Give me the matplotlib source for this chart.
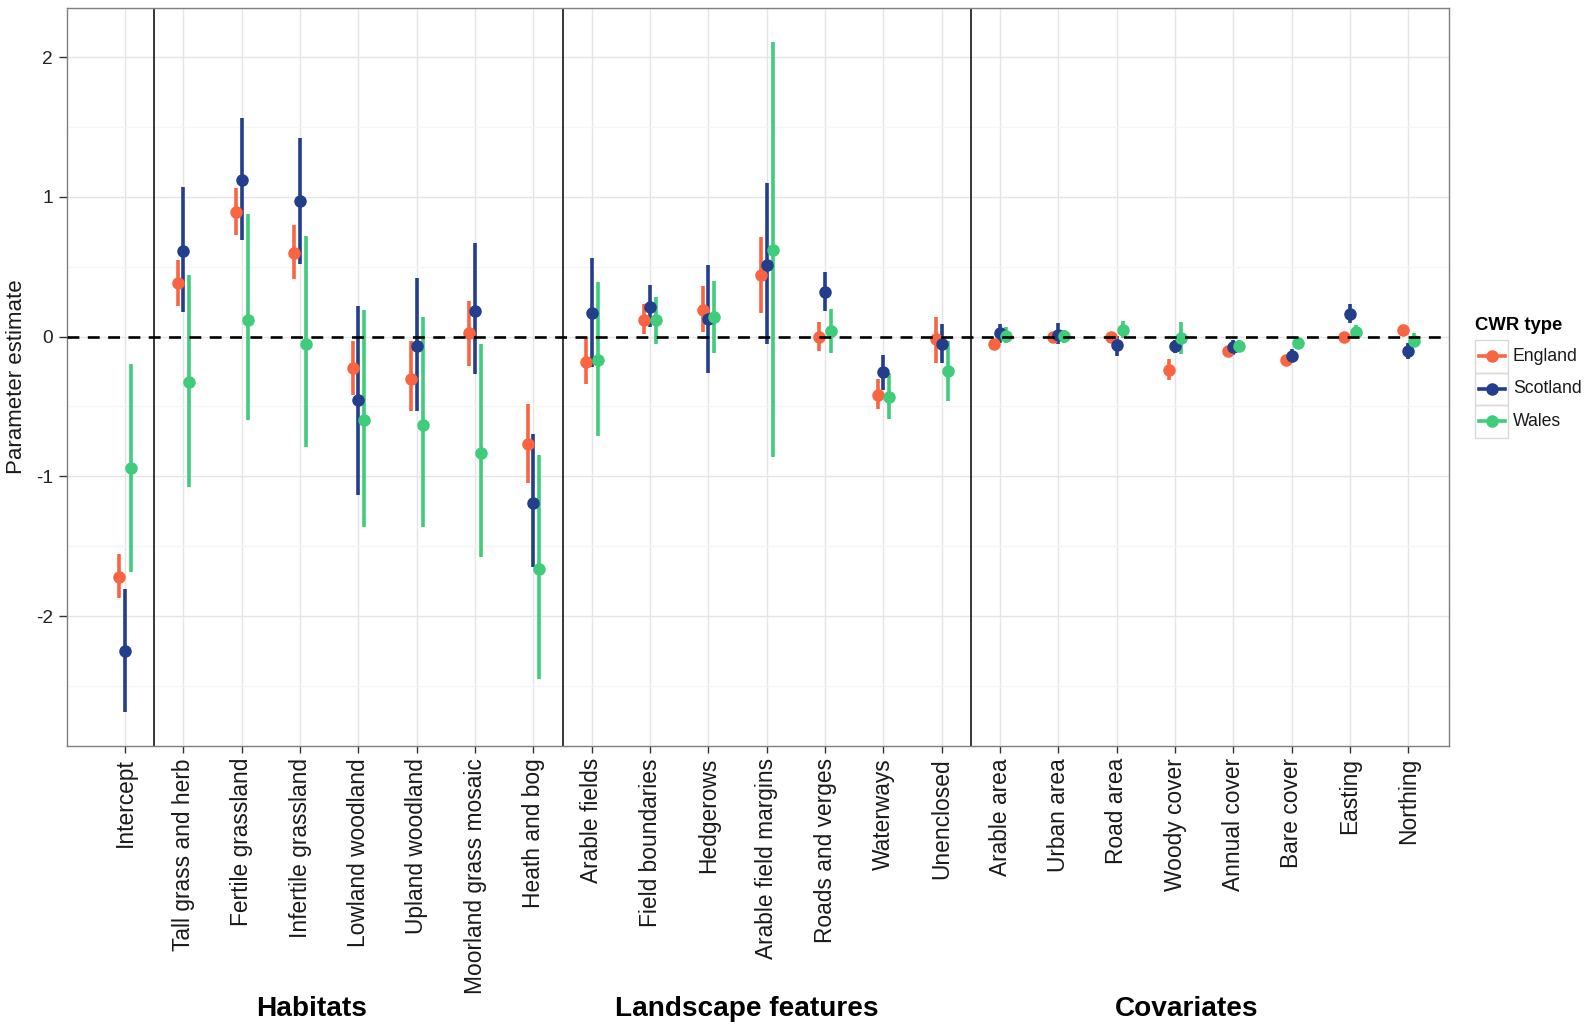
import numpy as np
import matplotlib
matplotlib.use("Agg")
import matplotlib.pyplot as plt
import matplotlib.transforms as mtransforms
from matplotlib.lines import Line2D
from matplotlib.patches import Rectangle

plt.rcParams['font.family'] = ['Liberation Sans', 'DejaVu Sans']

# ----------------------------- data -----------------------------
categories = ["Intercept",
              "Tall grass and herb", "Fertile grassland", "Infertile grassland",
              "Lowland woodland", "Upland woodland", "Moorland grass mosaic",
              "Heath and bog",
              "Arable fields", "Field boundaries", "Hedgerows",
              "Arable field margins", "Roads and verges", "Waterways", "Unenclosed",
              "Arable area", "Urban area", "Road area", "Woody cover",
              "Annual cover", "Bare cover", "Easting", "Northing"]

group_names = ["Habitats", "Landscape features", "Covariates"]
group_label_x = [3.2, 10.65, 18.2]     # where the bold labels sit (category units)
separators = [0.5, 7.5, 14.5]

england_est = [-1.72, 0.38, 0.89, 0.60, -0.225, -0.30, 0.025, -0.77,
               -0.18, 0.117, 0.19, 0.44, 0.0, -0.42, -0.017,
               -0.054, -0.005, -0.005, -0.236, -0.10, -0.165, -0.005, 0.047]
england_lo = [-1.87, 0.22, 0.725, 0.41, -0.42, -0.53, -0.21, -1.05,
              -0.34, 0.015, 0.03, 0.17, -0.10, -0.52, -0.19,
              -0.075, -0.03, -0.03, -0.31, -0.12, -0.185, -0.03, 0.025]
england_hi = [-1.556, 0.547, 1.06, 0.80, -0.035, -0.035, 0.255, -0.48,
              0.0, 0.23, 0.36, 0.715, 0.105, -0.30, 0.14,
              -0.035, 0.02, 0.02, -0.16, -0.08, -0.145, 0.02, 0.07]

scotland_est = [-2.25, 0.615, 1.118, 0.967, -0.456, -0.066, 0.18, -1.19,
                0.17, 0.21, 0.126, 0.51, 0.32, -0.25, -0.05,
                0.024, 0.012, -0.06, -0.07, -0.078, -0.137, 0.165, -0.106]
scotland_lo = [-2.687, 0.178, 0.69, 0.52, -1.13, -0.53, -0.27, -1.65,
               -0.22, 0.067, -0.26, -0.05, 0.18, -0.38, -0.19,
               -0.047, -0.054, -0.137, -0.12, -0.13, -0.185, 0.095, -0.158]
scotland_hi = [-1.805, 1.07, 1.566, 1.42, 0.22, 0.42, 0.67, -0.70,
               0.56, 0.37, 0.515, 1.10, 0.46, -0.13, 0.09,
               0.087, 0.095, 0.007, -0.024, -0.024, -0.09, 0.236, -0.047]

wales_est = [-0.94, -0.325, 0.12, -0.05, -0.596, -0.63, -0.83, -1.66,
             -0.165, 0.117, 0.14, 0.62, 0.04, -0.43, -0.245,
             0.007, 0.005, 0.047, -0.012, -0.064, -0.043, 0.035, -0.03]
wales_lo = [-1.685, -1.073, -0.60, -0.79, -1.36, -1.36, -1.58, -2.45,
            -0.71, -0.05, -0.12, -0.86, -0.12, -0.59, -0.46,
            -0.047, -0.043, -0.007, -0.125, -0.106, -0.087, -0.012, -0.078]
wales_hi = [-0.198, 0.444, 0.88, 0.72, 0.19, 0.14, -0.05, -0.85,
            0.39, 0.28, 0.40, 2.11, 0.20, -0.26, -0.03,
            0.066, 0.047, 0.11, 0.106, -0.024, 0.0, 0.083, 0.024]

series = [
    ("England",  england_est,  england_lo,  england_hi,  "#FA6440", -0.1),
    ("Scotland", scotland_est, scotland_lo, scotland_hi, "#233E8B",  0.0),
    ("Wales",    wales_est,    wales_lo,    wales_hi,    "#3FCC7B",  0.1),
]

# ----------------------------- figure -----------------------------
fig = plt.figure(figsize=(15.89, 10.27), dpi=100)
ax = fig.add_axes([0.042, 0.274, 0.870, 0.718])

x = np.arange(len(categories))

for name, est, lo, hi, col, off in series:
    est, lo, hi = map(np.asarray, (est, lo, hi))
    ax.vlines(x + off, lo, hi, color=col, lw=2.6, zorder=3)
    ax.plot(x + off, est, 'o', color=col, ms=8, mec=col, zorder=4)

ax.axhline(0, color='black', lw=1.9, ls=(0, (4.5, 3.2)), zorder=5)
for s in separators:
    ax.axvline(s, color='black', lw=1.1, zorder=2)

ax.set_yticks([-2, -1, 0, 1, 2])
ax.set_yticklabels(["-2", "-1", "0", "1", "2"])
ax.set_yticks(np.arange(-2.5, 2.6, 1.0), minor=True)
ax.set_xticks(x)
ax.set_xticklabels(categories, rotation=90, fontsize=16.4, color='#1a1a1a')

# ggplot-style limits: data range plus 5 % (set after the ticks so they
# don't widen the view)
all_lo = min(min(v) for v in (england_lo, scotland_lo, wales_lo))
all_hi = max(max(v) for v in (england_hi, scotland_hi, wales_hi))
pad = 0.05 * (all_hi - all_lo)
ax.set_ylim(all_lo - pad, all_hi + pad)
ax.set_xlim(-1.0, len(categories) - 0.3)

ax.tick_params(axis='y', labelsize=13.8, labelcolor='#222222', length=6,
               width=1, color='#333333', pad=4)
ax.tick_params(axis='x', length=5, width=1, color='#333333', pad=4)
ax.tick_params(axis='y', which='minor', length=0)

ax.grid(True, which='major', color='#E5E5E5', lw=1.0, zorder=0)
ax.grid(True, which='minor', axis='y', color='#F5F5F5', lw=1.0, zorder=0)
ax.set_axisbelow(True)
for sp in ax.spines.values():
    sp.set_color('#7F7F7F')
    sp.set_linewidth(1.0)

ax.set_ylabel("Parameter estimate", fontsize=16, color='#1a1a1a', labelpad=6)

# bold group labels under the tick labels
trans = mtransforms.blended_transform_factory(ax.transData, fig.transFigure)
for gx, gname in zip(group_label_x, group_names):
    ax.text(gx, 0.0175, gname, transform=trans, ha='center', va='center',
            fontsize=20.2, fontweight='bold', color='black')

# legend, ggplot style with boxed keys
fig.text(1475 / 1589, 1 - 326 / 1027, "CWR type", fontsize=13.3,
         fontweight='bold', ha='left', va='center')
row_h = 32.5
for i, (name, est, lo, hi, col, off) in enumerate(series):
    top = 340 + i * row_h
    fig.patches.append(Rectangle((1475 / 1589, 1 - (top + row_h) / 1027),
                                 33 / 1589, row_h / 1027,
                                 transform=fig.transFigure, fill=False,
                                 ec='#D9D9D9', lw=1.0))
    cy = 1 - (top + row_h / 2) / 1027
    fig.lines.append(Line2D([1479 / 1589, 1505 / 1589], [cy, cy],
                            transform=fig.transFigure, color=col, lw=2.6))
    fig.lines.append(Line2D([1492 / 1589], [cy], transform=fig.transFigure,
                            marker='o', ms=8, color=col, mec=col))
    fig.text(1513 / 1589, cy, name, fontsize=12.7, ha='left', va='center',
             color='#1a1a1a')

fig.savefig("out.png", dpi=100)
